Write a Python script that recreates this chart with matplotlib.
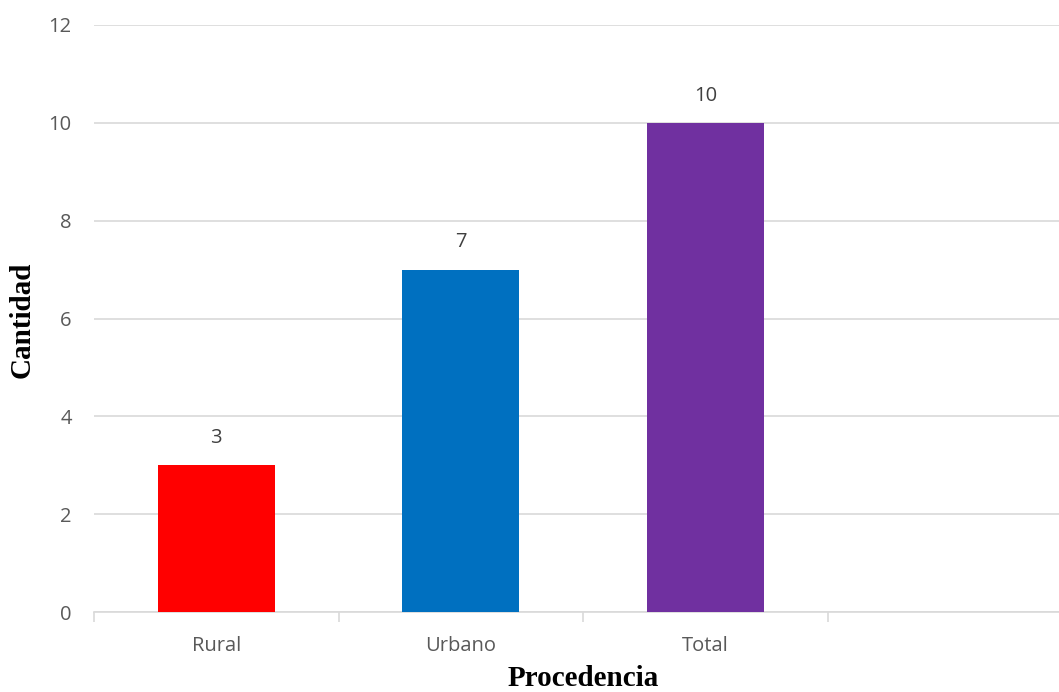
import matplotlib
matplotlib.use('Agg')
from matplotlib import pyplot as plt
import numpy as np

categories = ['Rural', 'Urbano', 'Total']
values = [3, 7, 10]
colors = ['#FF0000', '#0070C0', '#7030A0']
n_slots = 4  # the chart keeps an empty fourth slot
yticks = [0, 2, 4, 6, 8, 10, 12]

fig = plt.figure(figsize=(10.59, 6.92), dpi=100)
ax = fig.add_axes([94/1059, 1 - 612/692, (244.5*n_slots)/1059, (612-25)/692])

x = np.arange(len(categories))
bars = ax.bar(x, values, width=0.48, color=colors, zorder=3)
for b, v in zip(bars, values):
    ax.text(b.get_x() + b.get_width()/2, v + 0.35, str(v), ha='center', va='bottom',
            fontsize=14.5, color='#404040', family='Open Sans')

ax.set_xlim(-0.5, n_slots - 0.5)
ax.set_ylim(0, 12)
ax.set_yticks(yticks)
ax.set_xticks(x)
ax.set_xticklabels(categories)
ax.set_xticks(np.arange(n_slots + 1) - 0.5, minor=True)
ax.tick_params(axis='x', which='major', length=0, pad=17, labelsize=14.5, labelcolor='#595959')
ax.tick_params(axis='x', which='minor', length=7, color='#D9D9D9', width=1.2)
ax.tick_params(axis='y', length=0, pad=16, labelsize=14.5, labelcolor='#595959')
for lab in ax.get_xticklabels() + ax.get_yticklabels():
    lab.set_family('Open Sans')

ax.grid(axis='y', color='#D9D9D9', linewidth=1.2, zorder=0)
for s in ['top', 'right', 'left']:
    ax.spines[s].set_visible(False)
ax.spines['bottom'].set_color('#D9D9D9')
ax.spines['bottom'].set_linewidth(1.2)

fig.text(583/1059, 0.5/692, 'Procedencia', ha='center', va='bottom',
         fontsize=21, fontweight='bold', family='Liberation Serif')
fig.text(22/1059, 1 - 320/692, 'Cantidad', ha='center', va='center', rotation=90,
         fontsize=21, fontweight='bold', family='Liberation Serif')

fig.savefig('out.png', dpi=100)
